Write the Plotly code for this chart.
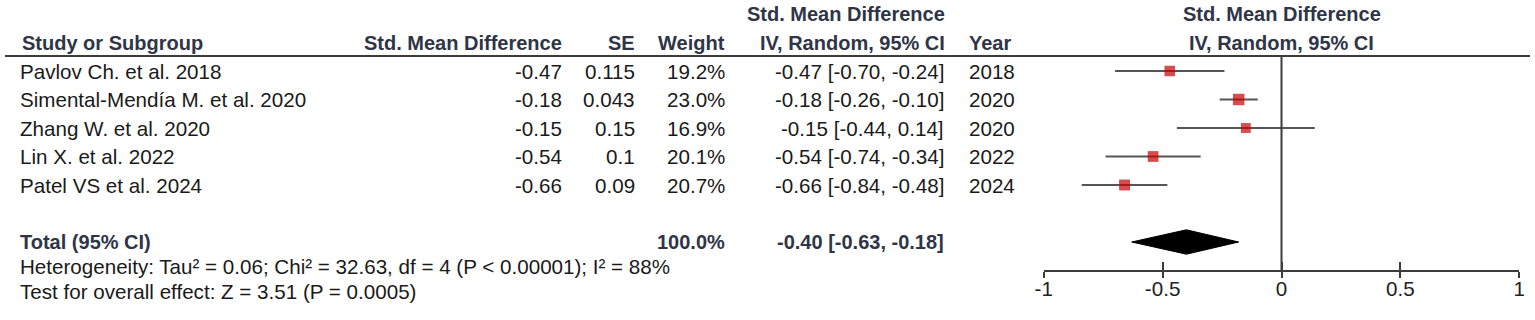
import plotly.graph_objects as go

# ---------------- data ----------------
studies = ["Pavlov Ch. et al. 2018", "Simental-Mendía M. et al. 2020", "Zhang W. et al. 2020",
           "Lin X. et al. 2022", "Patel VS et al. 2024"]
smd = [-0.47, -0.18, -0.15, -0.54, -0.66]
se = ["0.115", "0.043", "0.15", "0.1", "0.09"]
weights = [19.2, 23.0, 16.9, 20.1, 20.7]
ci_low = [-0.70, -0.26, -0.44, -0.74, -0.84]
ci_high = [-0.24, -0.10, 0.14, -0.34, -0.48]
years = [2018, 2020, 2020, 2022, 2024]

total_est = -0.40
total_low = -0.63
total_high = -0.18
total_weight = 100.0

heterogeneity = "Heterogeneity: Tau² = 0.06; Chi² = 32.63, df = 4 (P &lt; 0.00001); I² = 88%"
overall = "Test for overall effect: Z = 3.51 (P = 0.0005)"

tick_vals = [-1, -0.5, 0, 0.5, 1]
tick_text = ["-1", "-0.5", "0", "0.5", "1"]

# ---------------- layout constants ----------------
W, H = 1535, 320
PITCH = 28.5           # px per row
ROW1_PX = 71           # pixel y of first study row
FONT = "Liberation Sans, Arial, sans-serif"
FS = 20.6              # regular text
FSB = 20               # bold header text
TXT = "#1a1a1a"
HDR = "#2f3547"
LINE = "#3c3c3c"

rows = list(range(1, len(studies) + 1))
total_row = len(studies) + 2
het_row = 7.87
test_row = 8.74
axis_row = 1 + (270.5 - ROW1_PX) / PITCH
hdr_line_row = 1 + (56 - ROW1_PX) / PITCH

y_top = 1 - ROW1_PX / PITCH
y_bot = 1 + (H - ROW1_PX) / PITCH

x0_px, x1_px = 1043.7, 1519.3


def px(x):
    return x / W


fig = go.Figure()

# study estimates with CIs
fig.add_trace(go.Scatter(
    x=smd, y=rows, mode="markers",
    marker=dict(symbol="square", color="#c80000", size=[2.4 * w ** 0.5 for w in weights],
                line=dict(width=0)),
    error_x=dict(type="data", symmetric=False,
                 array=[h - e for h, e in zip(ci_high, smd)],
                 arrayminus=[e - l for e, l in zip(smd, ci_low)],
                 color="#555555", thickness=2, width=0),
    hoverinfo="skip", showlegend=False, cliponaxis=False,
))

# total diamond
dh = 12.2 / PITCH
fig.add_trace(go.Scatter(
    x=[total_low, total_est, total_high, total_est, total_low],
    y=[total_row, total_row - dh, total_row, total_row + dh, total_row],
    mode="lines", fill="toself", fillcolor="black",
    line=dict(color="black", width=1), hoverinfo="skip", showlegend=False,
))

# invisible trace for the overlay axis
fig.add_trace(go.Scatter(x=[0], y=[total_row], xaxis="x2", mode="markers",
                         marker=dict(opacity=0), hoverinfo="skip", showlegend=False))

ann = []


def txt(x, y, s, anchor="left", bold=False, color=TXT, xref="paper"):
    ann.append(dict(x=x, y=y, xref=xref, yref="y", text=f"<b>{s}</b>" if bold else s,
                    showarrow=False, xanchor=anchor, yanchor="middle",
                    font=dict(family=FONT, size=FSB if bold else FS, color=color)))


# headers
txt(px(20), 0, "Study or Subgroup", bold=True, color=HDR)
txt(px(564), 0, "Std. Mean Difference", "right", True, HDR)
txt(px(637), 0, "SE", "right", True, HDR)
txt(px(727), 0, "Weight", "right", True, HDR)
txt(px(947), -1, "Std. Mean Difference", "right", True, HDR)
txt(px(947), 0, "IV, Random, 95% CI", "right", True, HDR)
txt(px(967), 0, "Year", bold=True, color=HDR)
txt(0, -1, "Std. Mean Difference", "center", True, HDR, xref="x")
txt(0, 0, "IV, Random, 95% CI", "center", True, HDR, xref="x")

# study rows
for r, s, m, e, w, lo, hi, yr in zip(rows, studies, smd, se, weights, ci_low, ci_high, years):
    txt(px(18), r, s)
    txt(px(564), r, f"{m:.2f}", "right")
    txt(px(637), r, e, "right")
    txt(px(727), r, f"{w:.1f}%", "right")
    txt(px(946), r, f"{m:.2f} [{lo:.2f}, {hi:.2f}]", "right")
    txt(px(967), r, str(yr))

# total row
txt(px(18), total_row, "Total (95% CI)", bold=True, color=HDR)
txt(px(727), total_row, f"{total_weight:.1f}%", "right", True, HDR)
txt(px(946), total_row, f"{total_est:.2f} [{total_low:.2f}, {total_high:.2f}]", "right", True, HDR)

txt(px(18), het_row, heterogeneity)
txt(px(18), test_row, overall)

shapes = [
    dict(type="line", xref="paper", yref="y", x0=px(5), x1=px(1530),
         y0=hdr_line_row, y1=hdr_line_row, line=dict(color=LINE, width=2)),
    dict(type="line", xref="x", yref="y", x0=0, x1=0,
         y0=hdr_line_row, y1=axis_row, line=dict(color=LINE, width=2)),
]

axis_pos = (H - 270.5) / H
common_x = dict(range=[-1, 1], domain=[px(x0_px), px(x1_px)], anchor="free",
                position=axis_pos, showgrid=False, zeroline=False,
                tickmode="array", tickvals=tick_vals, showline=True,
                linecolor=LINE, linewidth=2, tickcolor=LINE, tickwidth=2,
                fixedrange=True, automargin=False)

fig.update_layout(
    width=W, height=H,
    margin=dict(l=0, r=0, t=0, b=0, pad=0, autoexpand=False),
    paper_bgcolor="white", plot_bgcolor="rgba(0,0,0,0)",
    xaxis=dict(**common_x, ticks="inside", ticklen=8, ticktext=tick_text,
               tickfont=dict(family=FONT, size=FS, color="#222222")),
    xaxis2=dict(**common_x, overlaying="x", ticks="outside", ticklen=6,
                showticklabels=False),
    yaxis=dict(range=[y_bot, y_top], domain=[0, 1], visible=False, fixedrange=True,
               automargin=False),
    annotations=ann, shapes=shapes,
    showlegend=False,
)

fig.write_html("out.html", config={"displayModeBar": False},
               post_script="document.body.style.margin='0';document.body.style.overflow='hidden';")
